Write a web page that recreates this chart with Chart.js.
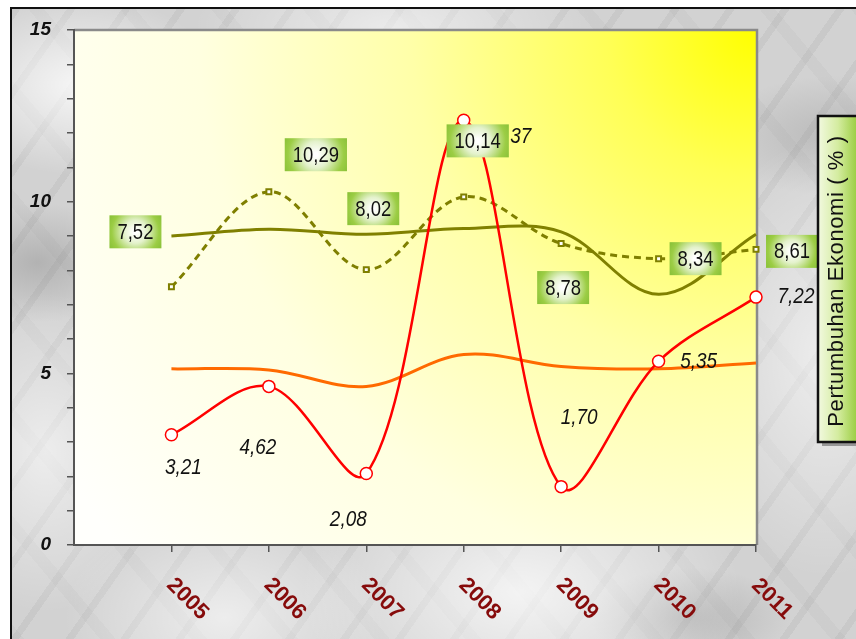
<!DOCTYPE html>
<html>
<head>
<meta charset="utf-8">
<script src="https://cdn.jsdelivr.net/npm/chart.js@4.4.1/dist/chart.umd.min.js"></script>
<style>
  html, body { margin: 0; padding: 0; background: #fff; }
  #wrap { position: relative; width: 856px; height: 639px; overflow: hidden; }
  /* marmer abu-abu di belakang grafik */
  #bingkai {
    position: absolute; left: 10px; top: 7px; right: -4px; bottom: -4px;
    border-left: 2px solid #111; border-top: 2px solid #111;
    background-color: #d2d2d2;
    background-image:
      radial-gradient(ellipse 140px 90px at 8% 12%, rgba(255,255,255,.8), transparent),
      radial-gradient(ellipse 120px 160px at 4% 70%, rgba(255,255,255,.6), transparent),
      radial-gradient(ellipse 220px 140px at 60% 92%, rgba(255,255,255,.75), transparent),
      radial-gradient(ellipse 160px 110px at 25% 96%, rgba(255,255,255,.6), transparent),
      radial-gradient(ellipse 140px 220px at 96% 55%, rgba(255,255,255,.6), transparent),
      radial-gradient(ellipse 200px 80px at 45% 3%, rgba(255,255,255,.55), transparent),
      radial-gradient(ellipse 90px 60px at 3% 40%, rgba(120,120,120,.35), transparent),
      radial-gradient(ellipse 100px 50px at 80% 96%, rgba(120,120,120,.3), transparent),
      radial-gradient(ellipse 120px 60px at 97% 20%, rgba(130,130,130,.3), transparent),
      repeating-linear-gradient(125deg, rgba(110,110,110,.09) 0 7px, transparent 7px 45px),
      repeating-linear-gradient(50deg, rgba(140,140,140,.07) 0 12px, transparent 12px 70px);
  }
  #grafik { position: absolute; left: 0; top: 0; }
</style>
</head>
<body>
<div id="wrap">
  <div id="bingkai"></div>
  <canvas id="grafik" width="856" height="639"></canvas>
</div>
<script>
// data pertumbuhan ekonomi (%)
const tahun = [2005, 2006, 2007, 2008, 2009, 2010, 2011];
const pertumbuhanMerah = [3.21, 4.62, 2.08, 12.37, 1.70, 5.35, 7.22];
const pertumbuhanPutus = [7.52, 10.29, 8.02, 10.14, 8.78, 8.34, 8.61];
const garisZaitun = [9.0, 9.2, 9.05, 9.22, 9.12, 7.3, 9.05];
const garisOranye = [5.13, 5.1, 4.62, 5.55, 5.2, 5.13, 5.3];
const tickY = [0, 5, 10, 15];
const judulKanan = 'Pertumbuhan Ekonomi ( % )';

// geser posisi label (px) terhadap titiknya
const geserMerah = [[12, 33], [-11, 61], [-18, 46], [44, 17], [18, -69], [40, 1], [40, 0]];
const geserKotak = [[-36, -55], [47, -37], [7, -61], [14, -56], [2, 44], [37, 0], [36, 2]];

const toXY = arr => arr.map((v, i) => ({ x: tahun[i], y: v }));
const formatKoma = v => v.toFixed(2).replace('.', ',');

// teks agak sempit seperti Arial Narrow
function teksSempit(ctx, text, x, y, font, sx) {
  ctx.save();
  ctx.font = font;
  ctx.translate(x, y);
  ctx.scale(sx, 1);
  ctx.textAlign = 'center';
  ctx.textBaseline = 'middle';
  ctx.fillText(text, 0, 0);
  ctx.restore();
}

const latarPlot = {
  id: 'latarPlot',
  beforeDraw(chart) {
    const { ctx, chartArea: a } = chart;
    ctx.save();
    const g = ctx.createRadialGradient(a.right, a.top, 0, a.right, a.top, 820);
    g.addColorStop(0, '#ffff00');
    g.addColorStop(0.18, '#ffff55');
    g.addColorStop(0.42, '#ffffa8');
    g.addColorStop(0.68, '#ffffe0');
    g.addColorStop(1, '#fffffc');
    ctx.fillStyle = g;
    ctx.fillRect(a.left, a.top, a.right - a.left, a.bottom - a.top);
    ctx.strokeStyle = '#8a8a8a';
    ctx.lineWidth = 2.5;
    ctx.beginPath();
    ctx.moveTo(a.left, a.top);
    ctx.lineTo(a.right + 1, a.top);
    ctx.lineTo(a.right + 1, a.bottom);
    ctx.stroke();
    ctx.restore();
  }
};

const labelNilai = {
  id: 'labelNilai',
  afterDraw(chart) {
    const ctx = chart.ctx;
    const merah = chart.getDatasetMeta(0).data;
    const putus = chart.getDatasetMeta(1).data;
    const fontKotak = '22px "Liberation Sans", Arial, sans-serif';
    ctx.save();
    ctx.fillStyle = '#111';
    merah.forEach((p, i) => {
      teksSempit(ctx, formatKoma(pertumbuhanMerah[i]), p.x + geserMerah[i][0], p.y + geserMerah[i][1],
        'italic 22px "Liberation Sans", Arial, sans-serif', 0.86);
    });
    putus.forEach((p, i) => {
      const teks = formatKoma(pertumbuhanPutus[i]);
      const cx = p.x + geserKotak[i][0];
      const cy = p.y + geserKotak[i][1];
      ctx.font = fontKotak;
      const w = ctx.measureText(teks).width * 0.84 + 16, h = 33;
      const g = ctx.createRadialGradient(cx, cy, 2, cx, cy, w / 2 + 3);
      g.addColorStop(0, '#ffffff');
      g.addColorStop(0.35, '#e4f2cc');
      g.addColorStop(0.8, '#9ccd45');
      g.addColorStop(1, '#8cc33a');
      ctx.fillStyle = g;
      ctx.fillRect(cx - w / 2, cy - h / 2, w, h);
      ctx.fillStyle = '#111';
      teksSempit(ctx, teks, cx, cy + 1, fontKotak, 0.84);
    });

    // label tahun miring ke kanan bawah
    const sx = chart.scales.x;
    ctx.fillStyle = '#860b0b';
    ctx.font = 'bold 22px "Liberation Sans", Arial, sans-serif';
    ctx.textAlign = 'center';
    ctx.textBaseline = 'middle';
    tahun.forEach(t => {
      ctx.save();
      ctx.translate(sx.getPixelForValue(t) + 16, 599);
      ctx.rotate(Math.PI / 4);
      ctx.fillText(String(t), 0, 0);
      ctx.restore();
    });

    // kotak judul vertikal di kanan
    const bx = 818, by = 116, bw = 40, bh = 326;
    ctx.fillStyle = 'rgba(60,60,60,0.45)';
    ctx.fillRect(bx + 4, by + 4, bw, bh);
    const gk = ctx.createLinearGradient(bx, 0, bx + bw, 0);
    gk.addColorStop(0, '#f2f9e0');
    gk.addColorStop(0.5, '#d4eca0');
    gk.addColorStop(1, '#98cc3c');
    ctx.fillStyle = gk;
    ctx.fillRect(bx, by, bw, bh);
    ctx.strokeStyle = '#111';
    ctx.lineWidth = 2.5;
    ctx.strokeRect(bx, by, bw, bh);
    ctx.fillStyle = '#111';
    ctx.save();
    ctx.translate(bx + 19, by + bh / 2 + 2);
    ctx.rotate(-Math.PI / 2);
    ctx.font = '22px "Liberation Sans", Arial, sans-serif';
    ctx.letterSpacing = '0.6px';
    ctx.textAlign = 'center';
    ctx.textBaseline = 'middle';
    ctx.fillText(judulKanan, 0, 0);
    ctx.restore();
    ctx.restore();
  }
};

const ctxGrafik = document.getElementById('grafik').getContext('2d');
const grafik = new Chart(ctxGrafik, {
  type: 'line',
  data: {
    datasets: [
      {
        data: toXY(pertumbuhanMerah),
        borderColor: '#ff0000',
        borderWidth: 2.5,
        pointRadius: 6,
        pointBackgroundColor: '#ffffff',
        pointBorderColor: '#ff0000',
        pointBorderWidth: 1.5,
        tension: 0.35,
        clip: false
      },
      {
        data: toXY(pertumbuhanPutus),
        borderColor: '#7f7f00',
        borderWidth: 3,
        borderDash: [7, 5],
        pointStyle: 'rect',
        pointRadius: 3.5,
        pointBackgroundColor: '#ffffff',
        pointBorderColor: '#7f7f00',
        pointBorderWidth: 2,
        tension: 0.35,
        clip: false
      },
      {
        data: toXY(garisZaitun),
        borderColor: '#808000',
        borderWidth: 3,
        pointRadius: 0,
        tension: 0.35,
        clip: false
      },
      {
        data: toXY(garisOranye),
        borderColor: '#ff6a00',
        borderWidth: 3,
        pointRadius: 0,
        tension: 0.35,
        clip: false
      }
    ]
  },
  options: {
    responsive: false,
    animation: false,
    devicePixelRatio: 1,
    layout: { padding: { top: 30, right: 100, left: 0, bottom: 0 } },
    plugins: { legend: { display: false }, tooltip: { enabled: false } },
    scales: {
      x: {
        type: 'linear',
        min: 2004,
        max: 2011,
        afterBuildTicks: scale => { scale.ticks = tahun.map(v => ({ value: v })); },
        afterFit: scale => { scale.height = 94; },
        ticks: { display: false },
        grid: { drawOnChartArea: false, tickLength: 7, color: '#555', lineWidth: 1.5 },
        border: { color: '#555', width: 2 }
      },
      y: {
        min: 0,
        max: 15,
        afterBuildTicks: scale => {
          const semua = [];
          for (let v = 0; v <= 15; v++) semua.push({ value: v });
          scale.ticks = semua;
        },
        afterFit: scale => { scale.width = 74; },
        ticks: {
          callback: v => tickY.includes(v) ? String(v) : '',
          color: '#111',
          padding: 16,
          font: { family: '"Liberation Sans", Arial, sans-serif', size: 19, weight: 'bold', style: 'italic' }
        },
        grid: { drawOnChartArea: false, tickLength: 7, color: '#555', lineWidth: 1.5 },
        border: { color: '#555', width: 2 }
      }
    }
  },
  plugins: [latarPlot, labelNilai]
});
</script>
</body>
</html>
